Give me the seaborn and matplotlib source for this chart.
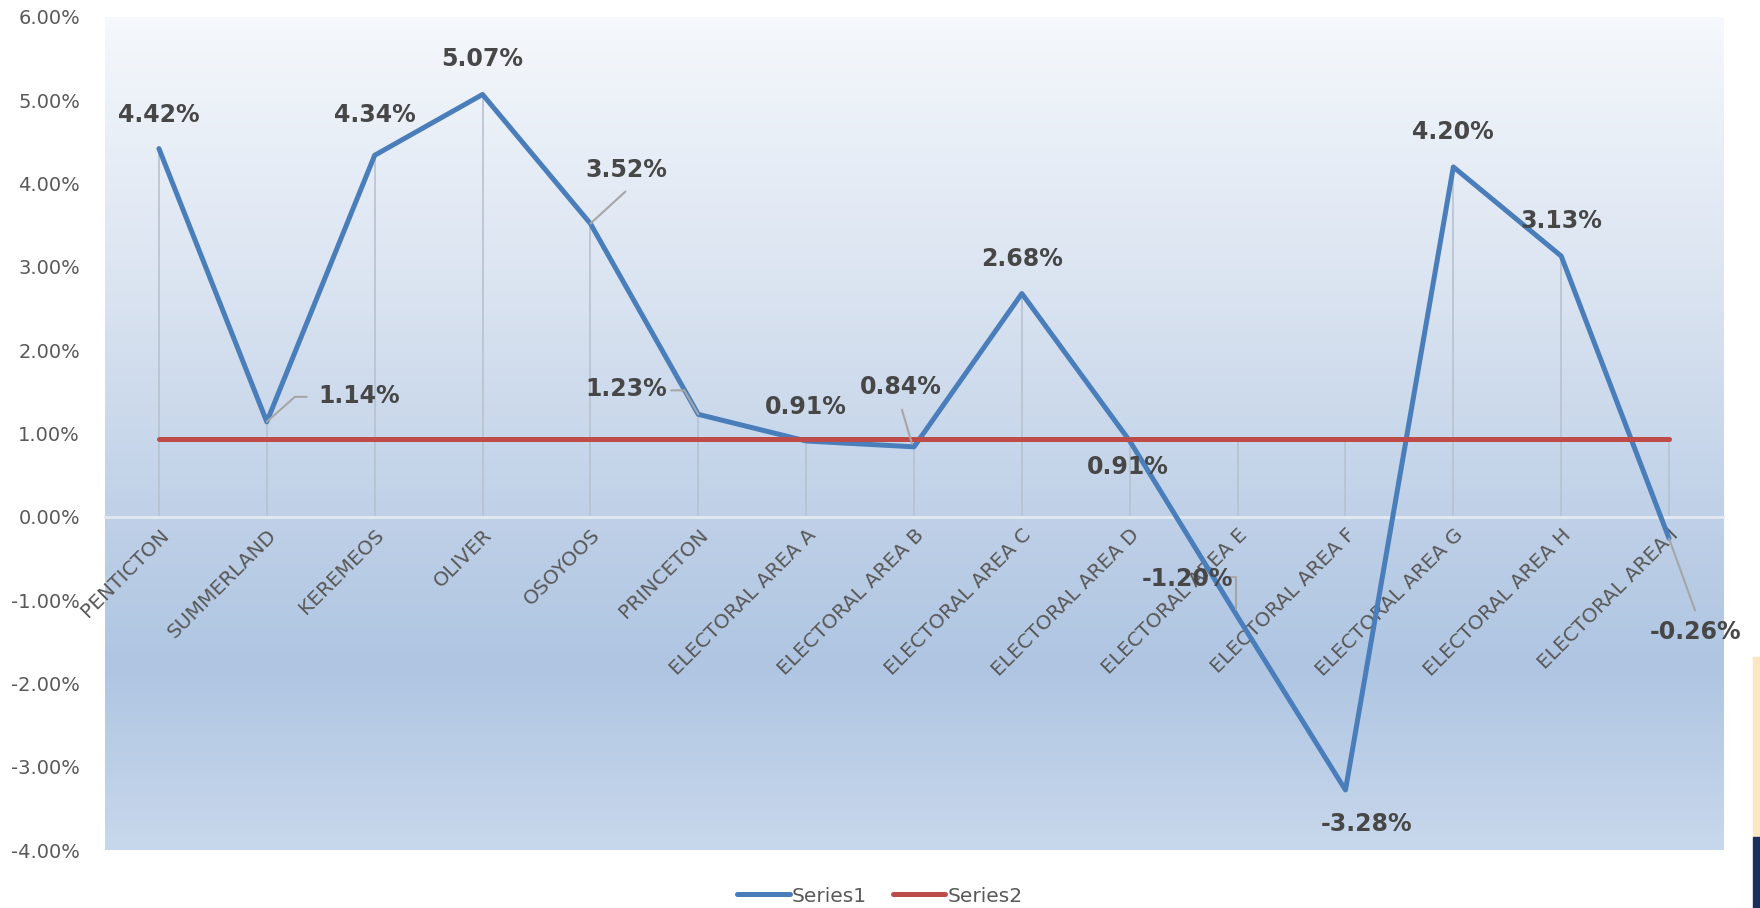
# Recriação do gráfico de linhas (Series1 x Series2) com seaborn

import numpy as np
import pandas as pd
import seaborn as sns
import matplotlib.pyplot as plt
from matplotlib.colors import LinearSegmentedColormap
from matplotlib.lines import Line2D
from matplotlib.patches import Rectangle
from matplotlib.ticker import FuncFormatter

# Dados
categorias = ['PENTICTON', 'SUMMERLAND', 'KEREMEOS', 'OLIVER', 'OSOYOOS', 'PRINCETON',
              'ELECTORAL AREA A', 'ELECTORAL AREA B', 'ELECTORAL AREA C',
              'ELECTORAL AREA D', 'ELECTORAL AREA E', 'ELECTORAL AREA F',
              'ELECTORAL AREA G', 'ELECTORAL AREA H', 'ELECTORAL AREA I']
series1 = [4.42, 1.14, 4.34, 5.07, 3.52, 1.23, 0.91, 0.84, 2.68, 0.91,
           -1.20, -3.28, 4.20, 3.13, -0.26]
series2 = [0.93] * 15
yticks = list(range(-4, 7))

# deslocamento dos rótulos de dados (pixels)
offsets = [(0, 34), (92, 26), (0, 40), (0, 35), (36, 54), (-72, 25), (0, 34), (-13, 60),
           (0, 35), (-2, -26), (-50, 38), (21, -34), (0, 35), (0, 35), (26, -94)]
# linhas de chamada (pixels relativos ao ponto)
leaders = {1: [(0, 0), (28, 25), (40, 25)],
           4: [(0, 0), (35, 32)],
           5: [(-27, 24), (-14, 24), (0, 0)],
           7: [(-12, 37), (-2, 3)],
           10: [(-8, 40), (-2, 40), (-2, 8)],
           14: [(0, 0), (26, -72)]}

sns.set_theme(style='white')
plt.rcParams['font.family'] = ['DejaVu Sans']
plt.rcParams['lines.solid_joinstyle'] = 'round'
plt.rcParams['lines.solid_capstyle'] = 'round'

W, H = 1760, 908
fig = plt.figure(figsize=(W / 100, H / 100), dpi=100)
ax = fig.add_axes([105 / W, 1 - 850 / H, (1723 - 105) / W, (850 - 17) / H])

# Fundo em degradê
cmap = LinearSegmentedColormap.from_list('fundo', [
    (0.0, '#f5f8fc'), (0.35, '#d8e2f0'), (0.55, '#c4d4e9'),
    (0.78, '#afc5e2'), (1.0, '#c8d8ec')])
grad = np.linspace(0, 1, 256).reshape(-1, 1)
ax.imshow(grad, extent=[0, 1, 0, 1], transform=ax.transAxes, aspect='auto',
          cmap=cmap, zorder=0, origin='upper')

df = pd.DataFrame({'pos': range(len(categorias)), 'Series1': series1, 'Series2': series2})
longo = df.melt(id_vars='pos', var_name='serie', value_name='valor')

# Linhas de queda
topo = np.maximum(df['Series1'], df['Series2'])
ax.vlines(df['pos'], 0, topo, color='#b8c2cf', linewidth=1.2, zorder=1)

sns.lineplot(data=longo, x='pos', y='valor', hue='serie',
             palette={'Series1': '#4a7ebb', 'Series2': '#be4b48'},
             linewidth=3.6, legend=False, ax=ax, zorder=3)

ax.set_xlim(-0.5, len(categorias) - 0.5)
ax.set_ylim(-4, 6)
ax.set_xlabel('')
ax.set_ylabel('')

# Eixos
for lado in ['top', 'right', 'left']:
    ax.spines[lado].set_visible(False)
ax.spines['bottom'].set_position(('data', 0))
ax.spines['bottom'].set_color('#e3e9f2')
ax.spines['bottom'].set_linewidth(2)
ax.spines['bottom'].set_zorder(2)

ax.set_xticks(range(len(categorias)))
ax.set_xticklabels(categorias)
ax.tick_params(axis='x', length=0, pad=6, labelsize=14.5, labelcolor='#595959')
for rot in ax.get_xticklabels():
    rot.set_rotation(45)
    rot.set_ha('right')
    rot.set_va('top')
    rot.set_rotation_mode('anchor')

ax.set_yticks(yticks)
ax.yaxis.set_major_formatter(FuncFormatter(lambda v, p: f'{v:.2f}%'))
ax.tick_params(axis='y', length=0, pad=18, labelsize=14, labelcolor='#595959')
ax.grid(False)

# Linhas de chamada
for i, pts in leaders.items():
    base = ax.transData.transform((i, series1[i]))
    xy = ax.transData.inverted().transform(base + np.array(pts, dtype=float))
    ax.plot(xy[:, 0], xy[:, 1], color='#a6a6a6', linewidth=1.5, zorder=4)

# Rótulos de dados
for i, v in enumerate(series1):
    ax.annotate(f'{v:.2f}%', xy=(i, v), xytext=offsets[i], textcoords='offset pixels',
                ha='center', va='center', fontsize=17, fontweight='bold',
                color='#474747', zorder=5)

# Legenda
handles = [Line2D([], [], color='#4a7ebb', linewidth=3.6),
           Line2D([], [], color='#be4b48', linewidth=3.6)]
fig.legend(handles, ['Series1', 'Series2'], loc='center',
           bbox_to_anchor=(880 / W, 1 - 896 / H), ncol=2, frameon=False,
           fontsize=14.5, handlelength=2.6, handletextpad=0.1, columnspacing=1.3,
           labelcolor='#595959', borderpad=0)

# Recorte de outra imagem no canto inferior direito
fig.patches.append(Rectangle((1753 / W, 1 - 837 / H), 7 / W, 180 / H,
                             transform=fig.transFigure, color='#fbe6c2'))
fig.patches.append(Rectangle((1753 / W, 0), 7 / W, 71 / H,
                             transform=fig.transFigure, color='#1b2f5e'))

fig.savefig('out.png', dpi=100)
